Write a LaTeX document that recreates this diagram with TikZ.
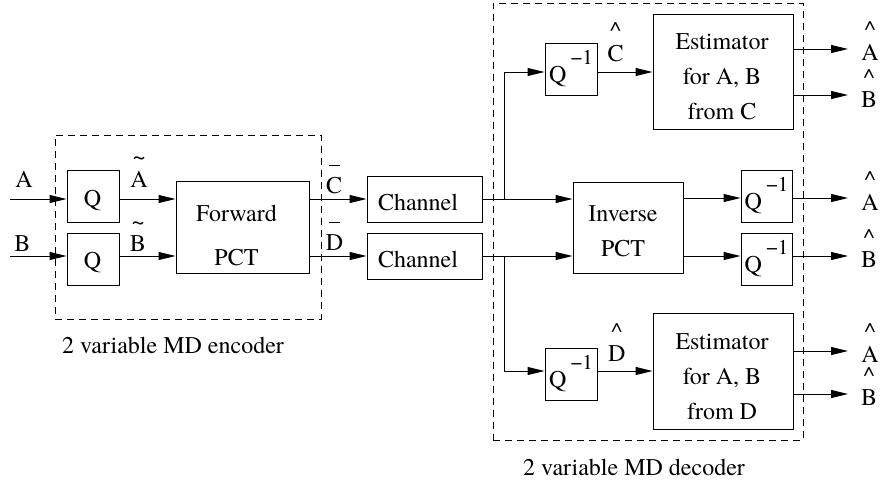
\documentclass[tikz,border=0pt]{standalone}
\usepackage{fontspec}
\setmainfont{texgyretermes}[Extension=.otf,UprightFont=*-regular,BoldFont=*-bold,ItalicFont=*-italic,BoldItalicFont=*-bolditalic]
\usetikzlibrary{arrows.meta,fit}
\newcommand\hatl[1]{\shortstack{\textasciicircum\\#1}}
\newcommand\tildel[1]{\shortstack{\textasciitilde\\#1}}
\newcommand\barl[1]{\shortstack{\rule{5.5pt}{0.5pt}\\[2.5pt]#1}}
\newcommand\qinv{Q\,\raisebox{9pt}{\fontsize{10.5}{12}\selectfont −1}}
\begin{document}
\begin{tikzpicture}[x=0.5pt,y=-0.5pt,
  box/.style={draw,line width=0.5pt,inner sep=0pt},
  dbox/.style={draw,line width=0.5pt,dash pattern=on 3.5pt off 2.5pt,inner sep=0pt},
  arr/.style={-{Triangle[length=8.5pt,width=4pt]},line width=0.5pt},
  txt/.style={font=\fontsize{12}{14}\selectfont,inner sep=0pt},
  txtB/.style={font=\fontsize{12}{17.5}\selectfont,inner sep=0pt,align=center},
  lbl/.style={txt,anchor=base}]
\useasboundingbox (0,0) rectangle (881,483);
% dashed frames
\node[dbox,fit={(55,135)(321,319)}] (enc) {};
\node[dbox,fit={(493,3)(803,440)}] (dec) {};
% boxes
\node[box,fit={(67,170)(119,222)}] (qa) {};
\node[box,fit={(67,233)(119,285)}] (qb) {};
\node[box,fit={(176,181)(309,273)}] (fpct) {};
\node[box,fit={(367,176)(482,222)}] (ch1) {};
\node[box,fit={(367,233)(482,279)}] (ch2) {};
\node[box,fit={(545,43)(597,95)}] (qi1) {};
\node[box,fit={(653,14)(793,129)}] (est1) {};
\node[box,fit={(573,182)(683,273)}] (ipct) {};
\node[box,fit={(741,170)(792,222)}] (qi2) {};
\node[box,fit={(741,233)(792,285)}] (qi3) {};
\node[box,fit={(545,348)(597,400)}] (qi4) {};
\node[box,fit={(653,313)(793,429)}] (est2) {};
% box texts
\node[lbl] (qat) at (92.5,206) {Q};
\node[lbl] (qbt) at (92.5,268) {Q};
\node[txtB,font=\fontsize{12}{22}\selectfont] (fpctt) at (236.5,235.8) {Forward\\PCT};
\node[lbl] (ch1t) at (418,210) {Channel};
\node[lbl] (ch2t) at (418,267) {Channel};
\node[txt] (qi1t) at (qi1) {\qinv};
\node[txt] (qi2t) at (qi2) {\qinv};
\node[txt] (qi3t) at (qi3) {\qinv};
\node[txt] (qi4t) at (qi4) {\qinv};
\node[txtB] (est1t) at (722,76.7) {Estimator\\for A, B\\from C};
\node[txtB] (est2t) at (722,376.3) {Estimator\\for A, B\\from D};
\node[txtB] (ipctt) at (623,230.8) {Inverse\\PCT};
% frame captions
\node[lbl] (encl) at (173,353) {2 variable MD encoder};
\node[lbl] (decl) at (634,475) {2 variable MD decoder};
% coordinates
\coordinate (inA) at (10,199);
\coordinate (inB) at (10,256);
\coordinate (j1) at (504,199);
\coordinate (r1) at (504,72);
\coordinate (j2) at (504,256);
\coordinate (r2) at (504,371);
\coordinate (o1) at (848,49);
\coordinate (o2) at (848,95);
\coordinate (o3) at (848,198);
\coordinate (o4) at (848,256);
\coordinate (o5) at (848,351);
\coordinate (o6) at (848,394);
% encoder connectors
\draw[arr] (inA) -- (inA -| qa.west);
\draw[arr] (inB) -- (inB -| qb.west);
\draw[arr] (inA -| qa.east) -- (inA -| fpct.west);
\draw[arr] (inB -| qb.east) -- (inB -| fpct.west);
\draw[arr] (inA -| fpct.east) -- (inA -| ch1.west);
\draw[arr] (inB -| fpct.east) -- (inB -| ch2.west);
% decoder connectors
\draw[arr] (inA -| ch1.east) -- (inA -| ipct.west);
\draw[arr] (inB -| ch2.east) -- (inB -| ipct.west);
\draw[arr] (j1) -- (r1) -- (r1 -| qi1.west);
\draw[arr] (j2) -- (r2) -- (r2 -| qi4.west);
\draw[arr] (r1 -| qi1.east) -- (r1 -| est1.west);
\draw[arr] (r2 -| qi4.east) -- (r2 -| est2.west);
\draw[arr] (o3 -| ipct.east) -- (o3 -| qi2.west);
\draw[arr] (o4 -| ipct.east) -- (o4 -| qi3.west);
\draw[arr] (o3 -| qi2.east) -- (o3);
\draw[arr] (o4 -| qi3.east) -- (o4);
\draw[arr] (o1 -| est1.east) -- (o1);
\draw[arr] (o2 -| est1.east) -- (o2);
\draw[arr] (o5 -| est2.east) -- (o5);
\draw[arr] (o6 -| est2.east) -- (o6);
% signal labels
\node[lbl] (lA) at (24,187) {A};
\node[lbl] (lB) at (22.5,251) {B};
\node[lbl] (lAt) at (139,187) {\tildel{A}};
\node[lbl] (lBt) at (138,251) {\tildel{B}};
\node[lbl] (lCb) at (334,193) {\barl{C}};
\node[lbl] (lDb) at (334.5,250) {\barl{D}};
\node[lbl] (lCh) at (615.5,61) {\hatl{C}};
\node[lbl] (lDh) at (616.7,361) {\hatl{D}};
\node[lbl] (oA1) at (870,60) {\hatl{A}};
\node[lbl] (oB1) at (869,107) {\hatl{B}};
\node[lbl] (oA2) at (870,210) {\hatl{A}};
\node[lbl] (oB2) at (869,267) {\hatl{B}};
\node[lbl] (oA3) at (870,362) {\hatl{A}};
\node[lbl] (oB3) at (869,405) {\hatl{B}};
\end{tikzpicture}
\end{document}
